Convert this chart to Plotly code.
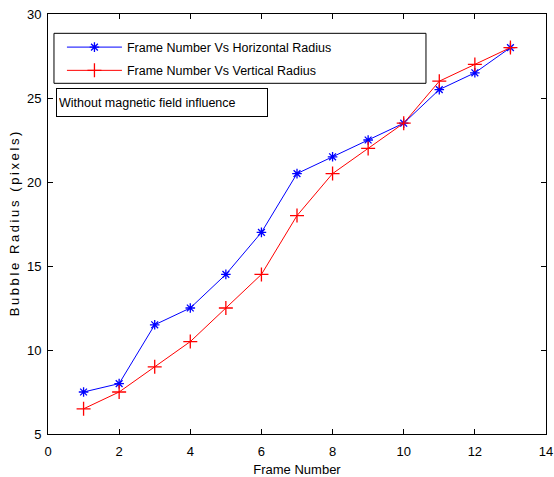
import plotly.graph_objects as go

# Bubble radius measurements per video frame
frames = [1, 2, 3, 4, 5, 6, 7, 8, 9, 10, 11, 12, 13]
horizontal_radius = [7.5, 8, 11.5, 12.5, 14.5, 17, 20.5, 21.5, 22.5, 23.5, 25.5, 26.5, 28]
vertical_radius = [6.5, 7.5, 9, 10.5, 12.5, 14.5, 18, 20.5, 22, 23.5, 26, 27, 28]

x_ticks = [0, 2, 4, 6, 8, 10, 12, 14]
y_ticks = [5, 10, 15, 20, 25, 30]

FONT = "Liberation Sans, Arial, sans-serif"

# y-axis title drawn with thin spaces between letters (wide tracking)
y_title = "\u2009".join("Bubble Radius (pixels)")

fig = go.Figure()
fig.add_trace(go.Scatter(
    x=frames, y=horizontal_radius, mode="lines+markers",
    name="Frame Number Vs Horizontal Radius", legendgroup="h",
    line=dict(color="#0000ff", width=1),
    marker=dict(symbol="asterisk-open", size=8, line=dict(color="#0000ff", width=1.3)),
))
fig.add_trace(go.Scatter(
    x=frames, y=vertical_radius, mode="lines+markers",
    name="Frame Number Vs Vertical Radius", legendgroup="v",
    line=dict(color="#ff0000", width=1),
    marker=dict(symbol="cross-thin-open", size=10, line=dict(color="#ff0000", width=1.3)),
))

axis_common = dict(
    showgrid=False, zeroline=False, showline=True, linecolor="black", linewidth=1,
    mirror="allticks", ticks="inside", ticklen=5, tickcolor="black",
    tickfont=dict(family=FONT, size=13, color="black"), automargin=False,
)

fig.update_layout(
    width=554, height=477,
    margin=dict(l=48, r=8, t=14, b=43),
    paper_bgcolor="white", plot_bgcolor="white",
    font=dict(family=FONT, size=12.5, color="black"),
    xaxis=dict(range=[0, 14], tickvals=x_ticks, ticklabelstandoff=5,
               title=dict(text="Frame Number", font=dict(size=13), standoff=8),
               **axis_common),
    yaxis=dict(range=[5, 30], tickvals=y_ticks, ticklabelstandoff=3,
               title=dict(text=y_title, font=dict(size=13), standoff=4),
               **axis_common),
    showlegend=True,
    legend=dict(
        x=0.028, y=0.956, xanchor="left", yanchor="top",
        bgcolor="rgba(255,255,255,0)", borderwidth=0,
        font=dict(family=FONT, size=12.5, color="black"),
        traceorder="grouped", tracegroupgap=4, itemwidth=55,
    ),
    shapes=[dict(type="rect", xref="paper", yref="paper",
                 x0=0.012, x1=0.759, y0=0.835, y1=0.954,
                 line=dict(color="black", width=1), fillcolor="rgba(0,0,0,0)")],
    annotations=[dict(
        text="Without magnetic field influence", xref="paper", yref="paper",
        x=0.016, y=0.825, xanchor="left", yanchor="top", showarrow=False,
        align="left", width=206, height=23, borderpad=2,
        bordercolor="black", borderwidth=1, bgcolor="white",
        font=dict(family=FONT, size=12.5, color="black"),
    )],
)

fig.write_html("out.html")
